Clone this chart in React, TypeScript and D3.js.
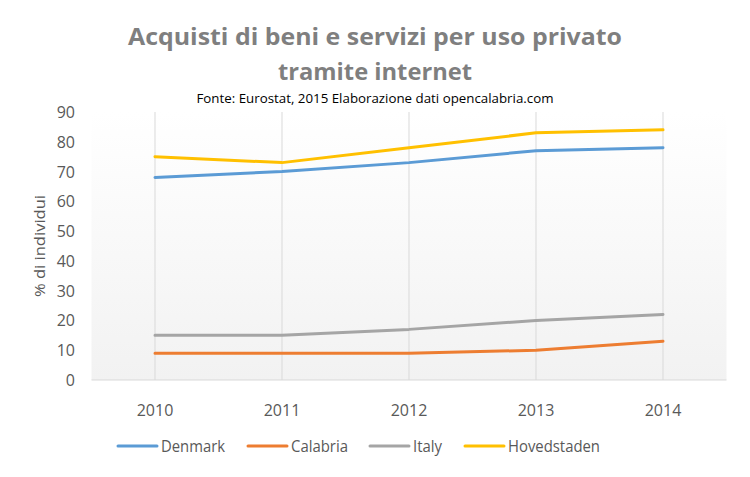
import React from "react";
import * as d3 from "d3";

const years = ["2010", "2011", "2012", "2013", "2014"];
const denmark = [68, 70, 73, 77, 78];
const calabria = [9, 9, 9, 10, 13];
const italy = [15, 15, 17, 20, 22];
const hovedstaden = [75, 73, 78, 83, 84];
const yTicks = [0, 10, 20, 30, 40, 50, 60, 70, 80, 90];

const series = [
  { name: "Denmark", values: denmark, color: "#5B9BD5" },
  { name: "Calabria", values: calabria, color: "#ED7D31" },
  { name: "Italy", values: italy, color: "#A5A5A5" },
  { name: "Hovedstaden", values: hovedstaden, color: "#FFC000" },
];

const W = 750, H = 477;
const left = 91.5, right = 726.5, top = 112, bottom = 380;
const font = "'Open Sans', 'Noto Sans', sans-serif";

export default function App() {
  const x = d3.scaleBand().domain(years).range([left, right]);
  const y = d3.scaleLinear().domain([0, 90]).range([bottom, top]);
  const line = d3
    .line<number>()
    .x((_, i) => (x(years[i]) as number) + x.bandwidth() / 2)
    .y((d) => y(d));
  const legendX = [118, 248, 370, 465];
  const legendW = [64, 57, 29, 92];
  return (
    <svg width={W} height={H} style={{ position: "absolute", left: 0, top: 0, background: "#fff" }}>
      <defs>
        <linearGradient id="bg" x1="0" y1="0" x2="0" y2="1">
          <stop offset="0" stopColor="#ffffff" />
          <stop offset="1" stopColor="#f2f2f2" />
        </linearGradient>
      </defs>
      <rect x={left} y={top} width={right - left} height={bottom - top} fill="url(#bg)" />
      <text x={375} y={45} textAnchor="middle" fontFamily={font} fontWeight="bold" fontSize={23} fill="#7f7f7f" textLength={494} lengthAdjust="spacingAndGlyphs">
        Acquisti di beni e servizi per uso privato
      </text>
      <text x={375} y={80} textAnchor="middle" fontFamily={font} fontWeight="bold" fontSize={23} fill="#7f7f7f" textLength={194} lengthAdjust="spacingAndGlyphs">
        tramite internet
      </text>
      <text x={375} y={103} textAnchor="middle" fontFamily={font} fontSize={12} fill="#000" textLength={357} lengthAdjust="spacingAndGlyphs">
        Fonte: Eurostat, 2015 Elaborazione dati opencalabria.com
      </text>
      {years.map((yr) => {
        const cx = (x(yr) as number) + x.bandwidth() / 2;
        return (
          <g key={yr}>
            <line x1={cx} x2={cx} y1={top} y2={bottom} stroke="#d9d9d9" strokeWidth={1} />
            <text x={cx} y={416} textAnchor="middle" fontFamily={font} fontSize={16} fill="#595959">
              {yr}
            </text>
          </g>
        );
      })}
      <line x1={left} x2={right} y1={bottom} y2={bottom} stroke="#d9d9d9" strokeWidth={1} />
      {yTicks.map((t) => (
        <text key={t} x={75} y={y(t) + 6} textAnchor="end" fontFamily={font} fontSize={16} fill="#595959">
          {t}
        </text>
      ))}
      <text transform={`translate(45,246) rotate(-90)`} textAnchor="middle" fontFamily={font} fontSize={15} fill="#595959" textLength={102} lengthAdjust="spacingAndGlyphs">
        % di individui
      </text>
      {series.map((s) => (
        <path key={s.name} d={line(s.values) as string} fill="none" stroke={s.color} strokeWidth={3} strokeLinejoin="round" strokeLinecap="round" />
      ))}
      {series.map((s, i) => (
        <g key={s.name}>
          <line x1={legendX[i]} x2={legendX[i] + 39} y1={446} y2={446} stroke={s.color} strokeWidth={3} strokeLinecap="round" />
          <text x={legendX[i] + 43} y={452} fontFamily={font} fontSize={16} fill="#595959" textLength={legendW[i]} lengthAdjust="spacingAndGlyphs">
            {s.name}
          </text>
        </g>
      ))}
    </svg>
  );
}
